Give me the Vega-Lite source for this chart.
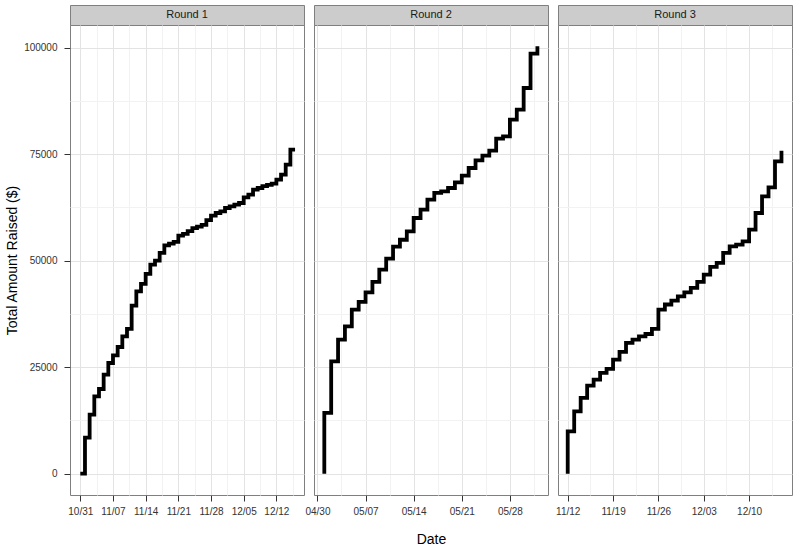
{
  "$schema": "https://vega.github.io/schema/vega-lite/v6.json",
  "padding": {"left": 5, "top": 4, "right": 5, "bottom": 2},
  "background": "white",
  "config": {
    "font": "Liberation Sans",
    "view": {"stroke": "#7F7F7F", "strokeWidth": 1},
    "axis": {"labelFont": "Liberation Sans", "titleFont": "Liberation Sans", "titleFontWeight": "normal"}
  },
  "datasets": {
    "funds": [
      {"round": "Round 1", "date": "2011-10-31", "total": 0},
      {"round": "Round 1", "date": "2011-11-01", "total": 8450},
      {"round": "Round 1", "date": "2011-11-02", "total": 13850},
      {"round": "Round 1", "date": "2011-11-03", "total": 18150},
      {"round": "Round 1", "date": "2011-11-04", "total": 19870},
      {"round": "Round 1", "date": "2011-11-05", "total": 23230},
      {"round": "Round 1", "date": "2011-11-06", "total": 25970},
      {"round": "Round 1", "date": "2011-11-07", "total": 27770},
      {"round": "Round 1", "date": "2011-11-08", "total": 29730},
      {"round": "Round 1", "date": "2011-11-09", "total": 32230},
      {"round": "Round 1", "date": "2011-11-10", "total": 33960},
      {"round": "Round 1", "date": "2011-11-11", "total": 39430},
      {"round": "Round 1", "date": "2011-11-12", "total": 42790},
      {"round": "Round 1", "date": "2011-11-13", "total": 44520},
      {"round": "Round 1", "date": "2011-11-14", "total": 46870},
      {"round": "Round 1", "date": "2011-11-15", "total": 49050},
      {"round": "Round 1", "date": "2011-11-16", "total": 49990},
      {"round": "Round 1", "date": "2011-11-17", "total": 51800},
      {"round": "Round 1", "date": "2011-11-18", "total": 53580},
      {"round": "Round 1", "date": "2011-11-19", "total": 54000},
      {"round": "Round 1", "date": "2011-11-20", "total": 54400},
      {"round": "Round 1", "date": "2011-11-21", "total": 55860},
      {"round": "Round 1", "date": "2011-11-22", "total": 56300},
      {"round": "Round 1", "date": "2011-11-23", "total": 56900},
      {"round": "Round 1", "date": "2011-11-24", "total": 57650},
      {"round": "Round 1", "date": "2011-11-25", "total": 58000},
      {"round": "Round 1", "date": "2011-11-26", "total": 58400},
      {"round": "Round 1", "date": "2011-11-27", "total": 59500},
      {"round": "Round 1", "date": "2011-11-28", "total": 60560},
      {"round": "Round 1", "date": "2011-11-29", "total": 61180},
      {"round": "Round 1", "date": "2011-11-30", "total": 61570},
      {"round": "Round 1", "date": "2011-12-01", "total": 62350},
      {"round": "Round 1", "date": "2011-12-02", "total": 62740},
      {"round": "Round 1", "date": "2011-12-03", "total": 63130},
      {"round": "Round 1", "date": "2011-12-04", "total": 63530},
      {"round": "Round 1", "date": "2011-12-05", "total": 64850},
      {"round": "Round 1", "date": "2011-12-06", "total": 65480},
      {"round": "Round 1", "date": "2011-12-07", "total": 66650},
      {"round": "Round 1", "date": "2011-12-08", "total": 67050},
      {"round": "Round 1", "date": "2011-12-09", "total": 67500},
      {"round": "Round 1", "date": "2011-12-10", "total": 67800},
      {"round": "Round 1", "date": "2011-12-11", "total": 68060},
      {"round": "Round 1", "date": "2011-12-12", "total": 69000},
      {"round": "Round 1", "date": "2011-12-13", "total": 70180},
      {"round": "Round 1", "date": "2011-12-14", "total": 72520},
      {"round": "Round 1", "date": "2011-12-15", "total": 76040},
      {"round": "Round 1", "date": "2011-12-16", "total": 76040},
      {"round": "Round 2", "date": "2012-05-01", "total": 0},
      {"round": "Round 2", "date": "2012-05-01", "total": 14240},
      {"round": "Round 2", "date": "2012-05-02", "total": 26360},
      {"round": "Round 2", "date": "2012-05-03", "total": 31450},
      {"round": "Round 2", "date": "2012-05-04", "total": 34580},
      {"round": "Round 2", "date": "2012-05-05", "total": 38500},
      {"round": "Round 2", "date": "2012-05-06", "total": 40300},
      {"round": "Round 2", "date": "2012-05-07", "total": 42550},
      {"round": "Round 2", "date": "2012-05-08", "total": 44990},
      {"round": "Round 2", "date": "2012-05-09", "total": 47880},
      {"round": "Round 2", "date": "2012-05-10", "total": 50460},
      {"round": "Round 2", "date": "2012-05-11", "total": 53300},
      {"round": "Round 2", "date": "2012-05-12", "total": 54900},
      {"round": "Round 2", "date": "2012-05-13", "total": 56870},
      {"round": "Round 2", "date": "2012-05-14", "total": 60000},
      {"round": "Round 2", "date": "2012-05-15", "total": 61960},
      {"round": "Round 2", "date": "2012-05-16", "total": 64310},
      {"round": "Round 2", "date": "2012-05-17", "total": 65880},
      {"round": "Round 2", "date": "2012-05-18", "total": 66270},
      {"round": "Round 2", "date": "2012-05-19", "total": 67050},
      {"round": "Round 2", "date": "2012-05-20", "total": 68370},
      {"round": "Round 2", "date": "2012-05-21", "total": 69940},
      {"round": "Round 2", "date": "2012-05-22", "total": 71740},
      {"round": "Round 2", "date": "2012-05-23", "total": 73530},
      {"round": "Round 2", "date": "2012-05-24", "total": 74630},
      {"round": "Round 2", "date": "2012-05-25", "total": 75810},
      {"round": "Round 2", "date": "2012-05-26", "total": 78620},
      {"round": "Round 2", "date": "2012-05-27", "total": 79160},
      {"round": "Round 2", "date": "2012-05-28", "total": 83080},
      {"round": "Round 2", "date": "2012-05-29", "total": 85430},
      {"round": "Round 2", "date": "2012-05-30", "total": 90520},
      {"round": "Round 2", "date": "2012-05-31", "total": 98570},
      {"round": "Round 2", "date": "2012-06-01", "total": 100290},
      {"round": "Round 3", "date": "2012-11-12", "total": 0},
      {"round": "Round 3", "date": "2012-11-12", "total": 9930},
      {"round": "Round 3", "date": "2012-11-13", "total": 14620},
      {"round": "Round 3", "date": "2012-11-14", "total": 17760},
      {"round": "Round 3", "date": "2012-11-15", "total": 20650},
      {"round": "Round 3", "date": "2012-11-16", "total": 22060},
      {"round": "Round 3", "date": "2012-11-17", "total": 23630},
      {"round": "Round 3", "date": "2012-11-18", "total": 24570},
      {"round": "Round 3", "date": "2012-11-19", "total": 26760},
      {"round": "Round 3", "date": "2012-11-20", "total": 28560},
      {"round": "Round 3", "date": "2012-11-21", "total": 30670},
      {"round": "Round 3", "date": "2012-11-22", "total": 31450},
      {"round": "Round 3", "date": "2012-11-23", "total": 32230},
      {"round": "Round 3", "date": "2012-11-24", "total": 32780},
      {"round": "Round 3", "date": "2012-11-25", "total": 33960},
      {"round": "Round 3", "date": "2012-11-26", "total": 38500},
      {"round": "Round 3", "date": "2012-11-27", "total": 39700},
      {"round": "Round 3", "date": "2012-11-28", "total": 40600},
      {"round": "Round 3", "date": "2012-11-29", "total": 41610},
      {"round": "Round 3", "date": "2012-11-30", "total": 42550},
      {"round": "Round 3", "date": "2012-12-01", "total": 43580},
      {"round": "Round 3", "date": "2012-12-02", "total": 44990},
      {"round": "Round 3", "date": "2012-12-03", "total": 46710},
      {"round": "Round 3", "date": "2012-12-04", "total": 48510},
      {"round": "Round 3", "date": "2012-12-05", "total": 49450},
      {"round": "Round 3", "date": "2012-12-06", "total": 51800},
      {"round": "Round 3", "date": "2012-12-07", "total": 53350},
      {"round": "Round 3", "date": "2012-12-08", "total": 53750},
      {"round": "Round 3", "date": "2012-12-09", "total": 54520},
      {"round": "Round 3", "date": "2012-12-10", "total": 57270},
      {"round": "Round 3", "date": "2012-12-11", "total": 61180},
      {"round": "Round 3", "date": "2012-12-12", "total": 65080},
      {"round": "Round 3", "date": "2012-12-13", "total": 67200},
      {"round": "Round 3", "date": "2012-12-14", "total": 73300},
      {"round": "Round 3", "date": "2012-12-15", "total": 75810}
    ]
  },
  "columns": 3,
  "spacing": {"row": 0, "column": 10},
  "bounds": "flush",
  "concat": [
    {
      "data": {"values": [{"round": "Round 1"}]},
      "width": 234, "height": 20,
      "view": {"fill": "#CCCCCC", "stroke": "#7F7F7F"},
      "mark": {"type": "text", "fontSize": 11, "color": "#1A1A1A", "baseline": "middle"},
      "encoding": {"x": {"field": "round", "type": "nominal", "axis": null}, "text": {"field": "round"}}
    },
    {
      "data": {"values": [{"round": "Round 2"}]},
      "width": 234, "height": 20,
      "view": {"fill": "#CCCCCC", "stroke": "#7F7F7F"},
      "mark": {"type": "text", "fontSize": 11, "color": "#1A1A1A", "baseline": "middle"},
      "encoding": {"x": {"field": "round", "type": "nominal", "axis": null}, "text": {"field": "round"}}
    },
    {
      "data": {"values": [{"round": "Round 3"}]},
      "width": 234, "height": 20,
      "view": {"fill": "#CCCCCC", "stroke": "#7F7F7F"},
      "mark": {"type": "text", "fontSize": 11, "color": "#1A1A1A", "baseline": "middle"},
      "encoding": {"x": {"field": "round", "type": "nominal", "axis": null}, "text": {"field": "round"}}
    },
    {
      "data": {"name": "funds"},
      "transform": [{"filter": "datum.round === 'Round 1'"}],
      "width": 234, "height": 470,
      "resolve": {"axis": {"x": "independent", "y": "independent"}},
      "layer": [
        {
          "mark": {"type": "line", "strokeOpacity": 0},
          "encoding": {
            "x": {"field": "date", "type": "temporal",
              "scale": {"type": "utc", "domain": [{"year": 2011, "month": 10, "date": 28, "hours": 19, "utc": true}, {"year": 2011, "month": 12, "date": 17, "hours": 22, "utc": true}]},
              "axis": {"orient": "top", "values": [
                {"year": 2011, "month": 11, "date": 3, "hours": 12, "utc": true},
                {"year": 2011, "month": 11, "date": 10, "hours": 12, "utc": true},
                {"year": 2011, "month": 11, "date": 17, "hours": 12, "utc": true},
                {"year": 2011, "month": 11, "date": 24, "hours": 12, "utc": true},
                {"year": 2011, "month": 12, "date": 1, "hours": 12, "utc": true},
                {"year": 2011, "month": 12, "date": 8, "hours": 12, "utc": true},
                {"year": 2011, "month": 12, "date": 15, "hours": 12, "utc": true}],
                "grid": true, "gridColor": "#F2F2F2", "labels": false, "ticks": false, "domain": false, "title": null}},
            "y": {"field": "total", "type": "quantitative",
              "scale": {"domain": [-5014, 105305], "nice": false, "zero": false},
              "axis": {"orient": "right", "values": [12500, 37500, 62500, 87500], "grid": true, "gridColor": "#F2F2F2", "labels": false, "ticks": false, "domain": false, "title": null}}
          }
        },
        {
          "mark": {"type": "line", "interpolate": "step-after", "color": "#000000", "strokeWidth": 3.8, "strokeJoin": "miter"},
          "encoding": {
            "x": {"field": "date", "type": "temporal",
              "scale": {"type": "utc", "domain": [{"year": 2011, "month": 10, "date": 28, "hours": 19, "utc": true}, {"year": 2011, "month": 12, "date": 17, "hours": 22, "utc": true}]},
              "axis": {"orient": "bottom", "values": [
                {"year": 2011, "month": 10, "date": 31, "utc": true},
                {"year": 2011, "month": 11, "date": 7, "utc": true},
                {"year": 2011, "month": 11, "date": 14, "utc": true},
                {"year": 2011, "month": 11, "date": 21, "utc": true},
                {"year": 2011, "month": 11, "date": 28, "utc": true},
                {"year": 2011, "month": 12, "date": 5, "utc": true},
                {"year": 2011, "month": 12, "date": 12, "utc": true}],
                "labelExpr": "utcFormat(datum.value, '%m/%d')", "grid": true, "gridColor": "#E3E3E3", "domain": false,
                "tickSize": 6, "tickColor": "#333333", "labelFontSize": 10, "labelColor": "#333333", "labelPadding": 5,
                "labelFlush": false, "labelOverlap": false, "title": null}},
            "y": {"field": "total", "type": "quantitative",
              "scale": {"domain": [-5014, 105305], "nice": false, "zero": false},
              "axis": {"orient": "left", "values": [0, 25000, 50000, 75000, 100000], "format": "d", "grid": true, "gridColor": "#E3E3E3", "domain": false,
                "tickSize": 6, "tickColor": "#333333", "labelFontSize": 10, "labelColor": "#333333", "labelPadding": 7,
                "title": "Total Amount Raised ($)", "titleFontSize": 14, "titleColor": "#000000", "titlePadding": 4}}
          }
        }
      ]
    },
    {
      "data": {"name": "funds"},
      "transform": [{"filter": "datum.round === 'Round 2'"}],
      "width": 234, "height": 470,
      "resolve": {"axis": {"x": "independent", "y": "independent"}},
      "layer": [
        {
          "mark": {"type": "line", "strokeOpacity": 0},
          "encoding": {
            "x": {"field": "date", "type": "temporal",
              "scale": {"type": "utc", "domain": [{"year": 2012, "month": 4, "date": 29, "hours": 12, "utc": true}, {"year": 2012, "month": 6, "date": 2, "hours": 13, "utc": true}]},
              "axis": {"orient": "top", "values": [
                {"year": 2012, "month": 5, "date": 3, "hours": 12, "utc": true},
                {"year": 2012, "month": 5, "date": 10, "hours": 12, "utc": true},
                {"year": 2012, "month": 5, "date": 17, "hours": 12, "utc": true},
                {"year": 2012, "month": 5, "date": 24, "hours": 12, "utc": true},
                {"year": 2012, "month": 5, "date": 31, "hours": 12, "utc": true}],
                "grid": true, "gridColor": "#F2F2F2", "labels": false, "ticks": false, "domain": false, "title": null}},
            "y": {"field": "total", "type": "quantitative",
              "scale": {"domain": [-5014, 105305], "nice": false, "zero": false},
              "axis": {"orient": "right", "values": [12500, 37500, 62500, 87500], "grid": true, "gridColor": "#F2F2F2", "labels": false, "ticks": false, "domain": false, "title": null}}
          }
        },
        {
          "mark": {"type": "line", "interpolate": "step-after", "color": "#000000", "strokeWidth": 3.8, "strokeJoin": "miter"},
          "encoding": {
            "x": {"field": "date", "type": "temporal",
              "scale": {"type": "utc", "domain": [{"year": 2012, "month": 4, "date": 29, "hours": 12, "utc": true}, {"year": 2012, "month": 6, "date": 2, "hours": 13, "utc": true}]},
              "axis": {"orient": "bottom", "values": [
                {"year": 2012, "month": 4, "date": 30, "utc": true},
                {"year": 2012, "month": 5, "date": 7, "utc": true},
                {"year": 2012, "month": 5, "date": 14, "utc": true},
                {"year": 2012, "month": 5, "date": 21, "utc": true},
                {"year": 2012, "month": 5, "date": 28, "utc": true}],
                "labelExpr": "utcFormat(datum.value, '%m/%d')", "grid": true, "gridColor": "#E3E3E3", "domain": false,
                "tickSize": 6, "tickColor": "#333333", "labelFontSize": 10, "labelColor": "#333333", "labelPadding": 5,
                "labelFlush": false, "labelOverlap": false,
                "title": "Date", "titleFontSize": 14, "titleColor": "#000000", "titlePadding": 16}},
            "y": {"field": "total", "type": "quantitative",
              "scale": {"domain": [-5014, 105305], "nice": false, "zero": false},
              "axis": {"orient": "left", "values": [0, 25000, 50000, 75000, 100000], "grid": true, "gridColor": "#E3E3E3", "domain": false,
                "labels": false, "ticks": false, "title": null}}
          }
        }
      ]
    },
    {
      "data": {"name": "funds"},
      "transform": [{"filter": "datum.round === 'Round 3'"}],
      "width": 234, "height": 470,
      "resolve": {"axis": {"x": "independent", "y": "independent"}},
      "layer": [
        {
          "mark": {"type": "line", "strokeOpacity": 0},
          "encoding": {
            "x": {"field": "date", "type": "temporal",
              "scale": {"type": "utc", "domain": [{"year": 2012, "month": 11, "date": 10, "hours": 12, "utc": true}, {"year": 2012, "month": 12, "date": 16, "hours": 15, "utc": true}]},
              "axis": {"orient": "top", "values": [
                {"year": 2012, "month": 11, "date": 15, "hours": 12, "utc": true},
                {"year": 2012, "month": 11, "date": 22, "hours": 12, "utc": true},
                {"year": 2012, "month": 11, "date": 29, "hours": 12, "utc": true},
                {"year": 2012, "month": 12, "date": 6, "hours": 12, "utc": true},
                {"year": 2012, "month": 12, "date": 13, "hours": 12, "utc": true}],
                "grid": true, "gridColor": "#F2F2F2", "labels": false, "ticks": false, "domain": false, "title": null}},
            "y": {"field": "total", "type": "quantitative",
              "scale": {"domain": [-5014, 105305], "nice": false, "zero": false},
              "axis": {"orient": "right", "values": [12500, 37500, 62500, 87500], "grid": true, "gridColor": "#F2F2F2", "labels": false, "ticks": false, "domain": false, "title": null}}
          }
        },
        {
          "mark": {"type": "line", "interpolate": "step-after", "color": "#000000", "strokeWidth": 3.8, "strokeJoin": "miter"},
          "encoding": {
            "x": {"field": "date", "type": "temporal",
              "scale": {"type": "utc", "domain": [{"year": 2012, "month": 11, "date": 10, "hours": 12, "utc": true}, {"year": 2012, "month": 12, "date": 16, "hours": 15, "utc": true}]},
              "axis": {"orient": "bottom", "values": [
                {"year": 2012, "month": 11, "date": 12, "utc": true},
                {"year": 2012, "month": 11, "date": 19, "utc": true},
                {"year": 2012, "month": 11, "date": 26, "utc": true},
                {"year": 2012, "month": 12, "date": 3, "utc": true},
                {"year": 2012, "month": 12, "date": 10, "utc": true}],
                "labelExpr": "utcFormat(datum.value, '%m/%d')", "grid": true, "gridColor": "#E3E3E3", "domain": false,
                "tickSize": 6, "tickColor": "#333333", "labelFontSize": 10, "labelColor": "#333333", "labelPadding": 5,
                "labelFlush": false, "labelOverlap": false, "title": null}},
            "y": {"field": "total", "type": "quantitative",
              "scale": {"domain": [-5014, 105305], "nice": false, "zero": false},
              "axis": {"orient": "left", "values": [0, 25000, 50000, 75000, 100000], "grid": true, "gridColor": "#E3E3E3", "domain": false,
                "labels": false, "ticks": false, "title": null}}
          }
        }
      ]
    }
  ]
}
